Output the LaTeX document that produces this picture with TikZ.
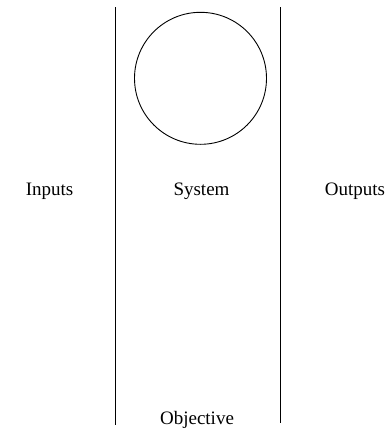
\documentclass[tikz,border=0pt]{standalone}
\usepackage{fontspec}
\setmainfont{Liberation Serif}
\begin{document}
\begin{tikzpicture}[x=1pt,y=-1pt,
  lbl/.style={font=\fontsize{19}{22}\selectfont, anchor=base, inner sep=0pt},
  rule/.style={line width=0.9pt, black}]
\useasboundingbox (0,0) rectangle (389,429);
\draw[rule] (115.7,7) coordinate (l1) -- (115.7,425) coordinate (l2);
\draw[rule] (280,7) coordinate (r1) -- (280,423) coordinate (r2);
\node[draw, circle, line width=0.9pt, minimum size=132pt, inner sep=0pt] (sys) at (200.5,78.3) {};
\node[lbl] (in) at (49.5,195) {Inputs};
\node[lbl] (st) at (201.5,195) {System};
\node[lbl] (out) at (355,195) {Outputs};
\node[lbl] (obj) at (197,424) {Objective};
\end{tikzpicture}
\end{document}
